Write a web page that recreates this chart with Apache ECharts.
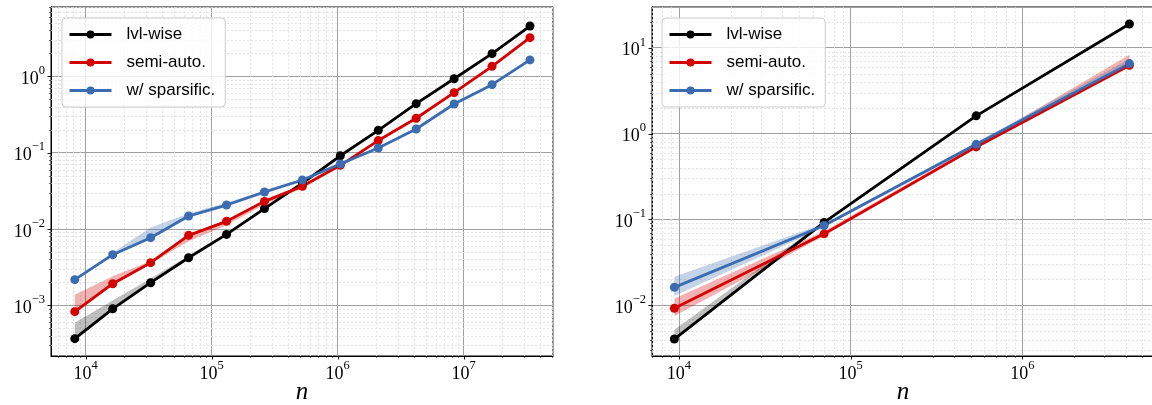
<!DOCTYPE html>
<html>
<head>
<meta charset="utf-8">
<script src="https://cdn.jsdelivr.net/npm/echarts@6/dist/echarts.min.js"></script>
<style>
  html, body { margin: 0; padding: 0; background: #ffffff; }
  #chart { width: 1152px; height: 405px; }
</style>
</head>
<body>
<div id="chart"></div>
<script>
// ---- problem sizes ----
const nLeft = [8192, 16384, 32768, 65536, 131072, 262144, 524288, 1048576,
               2097152, 4194304, 8388608, 16777216, 33554432];
const nRight = [9400, 70000, 538000, 4200000];

// ---- left panel: run times (median, lower / upper envelope) ----
const lvlLeft    = [3.66e-4, 9.0e-4, 1.98e-3, 4.2e-3, 8.5e-3, 1.85e-2, 4.0e-2, 9.1e-2, 0.196, 0.438, 0.93, 1.98, 4.56];
const lvlLeftLo  = [3.5e-4, 8.7e-4, 1.93e-3, 4.1e-3, 8.3e-3, 1.8e-2, 3.9e-2, 8.9e-2, 0.19, 0.425, 0.9, 1.93, 4.45];
const lvlLeftHi  = [5.9e-4, 1.16e-3, 2.25e-3, 4.45e-3, 8.8e-3, 1.92e-2, 4.15e-2, 9.4e-2, 0.203, 0.455, 0.97, 2.04, 4.7];

const semiLeft   = [8.26e-4, 1.92e-3, 3.62e-3, 8.26e-3, 1.26e-2, 2.3e-2, 3.62e-2, 6.82e-2, 0.144, 0.282, 0.611, 1.35, 3.21];
const semiLeftLo = [7.8e-4, 1.83e-3, 3.5e-3, 6.9e-3, 1.12e-2, 2.1e-2, 3.45e-2, 6.6e-2, 0.139, 0.273, 0.595, 1.31, 3.12];
const semiLeftHi = [1.38e-3, 2.4e-3, 3.8e-3, 8.6e-3, 1.3e-2, 2.42e-2, 3.8e-2, 7.05e-2, 0.149, 0.29, 0.63, 1.39, 3.3];

const spLeft     = [2.17e-3, 4.61e-3, 7.7e-3, 1.48e-2, 2.06e-2, 3.05e-2, 4.38e-2, 7.11e-2, 0.115, 0.204, 0.434, 0.778, 1.64];
const spLeftLo   = [2.1e-3, 4.45e-3, 7.4e-3, 1.4e-2, 1.95e-2, 2.9e-2, 4.2e-2, 6.9e-2, 0.112, 0.198, 0.422, 0.758, 1.6];
const spLeftHi   = [2.25e-3, 4.9e-3, 1.05e-2, 1.6e-2, 2.2e-2, 3.2e-2, 4.6e-2, 7.35e-2, 0.119, 0.21, 0.446, 0.8, 1.69];

// ---- right panel ----
const lvlRight    = [4.05e-3, 0.0923, 1.61, 18.9];
const lvlRightLo  = [3.9e-3, 0.089, 1.56, 18.4];
const lvlRightHi  = [5.2e-3, 0.096, 1.66, 19.5];

const semiRight   = [9.23e-3, 0.068, 0.70, 6.25];
const semiRightLo = [7.5e-3, 0.064, 0.67, 5.9];
const semiRightHi = [1.2e-2, 0.073, 0.74, 8.3];

const spRight     = [0.0162, 0.085, 0.75, 6.53];
const spRightLo   = [0.0128, 0.081, 0.72, 6.0];
const spRightHi   = [0.0215, 0.089, 0.79, 7.4];

// ---- labelled decades ----
const xTicksLeft  = [1e4, 1e5, 1e6, 1e7];
const yTicksLeft  = [1e-3, 1e-2, 1e-1, 1e0];
const xTicksRight = [1e4, 1e5, 1e6];
const yTicksRight = [1e-2, 1e-1, 1e0, 1e1];

const names = ['lvl-wise', 'semi-auto.', 'w/ sparsific.'];
const colors = ['#000000', '#d40000', '#3b6cb1'];
const bandColors = ['rgba(0,0,0,0.25)', 'rgba(212,0,0,0.3)', 'rgba(59,108,177,0.3)'];

// axis extents
const xRangeLeft  = [5304, 5.11e7];
const yRangeLeft  = [2.17e-4, 8.09];
const xRangeRight = [6964, 5.84e6];
const yRangeRight = [2.57e-3, 29.8];

const SERIF = '"Liberation Serif", "DejaVu Serif", serif';
const SANS = '"Liberation Sans", "DejaVu Sans", sans-serif';

function isDecade(v, list) {
  return list.some(t => Math.abs(Math.log10(v) - Math.log10(t)) < 1e-6);
}
function powLabel(list) {
  return function (v) {
    if (!isDecade(v, list)) return '';
    const e = Math.round(Math.log10(v));
    const es = e < 0 ? '\u2212' + (-e) : String(e);
    return '{b|10}{s|' + es + '}';
  };
}
const richPow = {
  b: { fontFamily: SERIF, fontSize: 18, color: '#000', lineHeight: 24, verticalAlign: 'bottom' },
  s: { fontFamily: SERIF, fontSize: 12.5, color: '#000', lineHeight: 24, verticalAlign: 'top' }
};

// minor tick values m * 10^k inside an extent
function minorValues(range) {
  const out = [];
  const k0 = Math.floor(Math.log10(range[0]));
  const k1 = Math.ceil(Math.log10(range[1]));
  for (let k = k0; k <= k1; k++) {
    for (let m = 2; m <= 9; m++) {
      const v = m * Math.pow(10, k);
      if (v > range[0] && v < range[1]) out.push(v);
    }
  }
  return out;
}

// tick marks and the fine grid, as [x, y, kind] items
// kind 0: minor x, 1: minor y, 2: major x, 3: major y
function decoData(xr, yr, xt, yt) {
  const yRef = Math.sqrt(yr[0] * yr[1]);
  const xRef = Math.sqrt(xr[0] * xr[1]);
  const d = [];
  minorValues(xr).forEach(v => d.push([v, yRef, 0]));
  minorValues(yr).forEach(v => d.push([xRef, v, 1]));
  xt.forEach(v => d.push([v, yRef, 2]));
  yt.forEach(v => d.push([xRef, v, 3]));
  return d;
}
function decoRender(params, api) {
  const cs = params.coordSys;
  const kind = api.value(2);
  const p = api.coord([api.value(0), api.value(1)]);
  const kids = [];
  const fine = { stroke: '#dddddd', lineWidth: 0.8, lineDash: [2, 2] };
  if (kind === 0 || kind === 2) {
    const x = Math.round(p[0]) + 0.5;
    const yb = cs.y + cs.height;
    if (kind === 0) kids.push({ type: 'line', shape: { x1: x, y1: cs.y, x2: x, y2: yb }, style: fine });
    kids.push({ type: 'line', shape: { x1: x, y1: yb, x2: x, y2: yb + (kind === 2 ? 3.5 : 2) },
                style: { stroke: '#000', lineWidth: kind === 2 ? 0.9 : 0.6 } });
  } else {
    const y = Math.round(p[1]) + 0.5;
    const xl = cs.x;
    if (kind === 1) kids.push({ type: 'line', shape: { x1: xl, y1: y, x2: xl + cs.width, y2: y }, style: fine });
    kids.push({ type: 'line', shape: { x1: xl, y1: y, x2: xl - (kind === 3 ? 3.5 : 2), y2: y },
                style: { stroke: '#000', lineWidth: kind === 3 ? 0.9 : 0.6 } });
  }
  return { type: 'group', children: kids };
}

// shaded envelope between lower and upper curves
function bandSeries(g, xs, lo, hi, color) {
  return {
    type: 'custom', xAxisIndex: g, yAxisIndex: g, z: 2, silent: true, clip: true,
    data: xs.map((x, i) => [x, lo[i], hi[i]]),
    encode: { x: 0, y: [1, 2] },
    renderItem: function (params, api) {
      if (params.dataIndex !== 0) return null;
      const top = xs.map((x, i) => api.coord([x, hi[i]]));
      const bot = xs.map((x, i) => api.coord([x, lo[i]])).reverse();
      return { type: 'polygon', shape: { points: top.concat(bot) }, style: { fill: color } };
    }
  };
}
function lineSeries(g, name, xs, ys, color) {
  return {
    type: 'line', name: name, xAxisIndex: g, yAxisIndex: g, z: 3,
    data: xs.map((x, i) => [x, ys[i]]),
    symbol: 'circle', symbolSize: 9, showSymbol: true,
    lineStyle: { color: color, width: 2.8 },
    itemStyle: { color: color },
    emphasis: { disabled: true }, silent: true
  };
}

function xAxis(g, range, ticks) {
  return {
    type: 'log', logBase: 10, gridIndex: g, min: range[0], max: range[1],
    axisLine: { show: true, lineStyle: { color: '#000', width: 1 } },
    axisTick: { show: false },
    splitLine: { show: true, lineStyle: { color: '#a0a0a0', width: 1 } },
    axisLabel: { formatter: powLabel(ticks), rich: richPow, margin: 3, showMinLabel: false, showMaxLabel: false },
    name: 'n', nameLocation: 'middle', nameGap: 24, nameMoveOverlap: false,
    nameTextStyle: { fontFamily: SERIF, fontStyle: 'italic', fontSize: 25, color: '#000' }
  };
}
function yAxis(g, range, ticks) {
  return {
    type: 'log', logBase: 10, gridIndex: g, min: range[0], max: range[1],
    axisLine: { show: true, lineStyle: { color: '#000', width: 1 } },
    axisTick: { show: false },
    splitLine: { show: true, lineStyle: { color: '#a0a0a0', width: 1 } },
    axisLabel: { formatter: powLabel(ticks), rich: richPow, margin: 6, showMinLabel: false, showMaxLabel: false }
  };
}
function legend(left) {
  return {
    orient: 'vertical', left: left, top: 18,
    itemWidth: 42, itemHeight: 10, itemGap: 9,
    padding: [7, 10, 7, 6],
    backgroundColor: 'rgba(255,255,255,0.8)', borderColor: '#cccccc', borderWidth: 1, borderRadius: 4,
    lineStyle: { width: 3 },
    textStyle: { fontFamily: SANS, fontSize: 17, color: '#000', lineHeight: 19, padding: [0, 0, 0, 10] },
    selectedMode: false,
    data: names
  };
}

const option = {
  animation: false,
  backgroundColor: '#ffffff',
  grid: [
    { left: 51, top: 7, width: 502, height: 349, show: true, borderColor: '#000', borderWidth: 1,
      backgroundColor: 'transparent', containLabel: false, outerBoundsMode: 'none' },
    { left: 652, top: 7, width: 502, height: 349, show: true, borderColor: '#000', borderWidth: 1,
      backgroundColor: 'transparent', containLabel: false, outerBoundsMode: 'none' }
  ],
  xAxis: [xAxis(0, xRangeLeft, xTicksLeft), xAxis(1, xRangeRight, xTicksRight)],
  yAxis: [yAxis(0, yRangeLeft, yTicksLeft), yAxis(1, yRangeRight, yTicksRight)],
  legend: [legend(62), legend(662)],
  series: [
    { type: 'custom', xAxisIndex: 0, yAxisIndex: 0, z: 1, silent: true, clip: false,
      data: decoData(xRangeLeft, yRangeLeft, xTicksLeft, yTicksLeft), encode: { x: 0, y: 1 }, renderItem: decoRender },
    { type: 'custom', xAxisIndex: 1, yAxisIndex: 1, z: 1, silent: true, clip: false,
      data: decoData(xRangeRight, yRangeRight, xTicksRight, yTicksRight), encode: { x: 0, y: 1 }, renderItem: decoRender },

    bandSeries(0, nLeft, lvlLeftLo, lvlLeftHi, bandColors[0]),
    bandSeries(0, nLeft, semiLeftLo, semiLeftHi, bandColors[1]),
    bandSeries(0, nLeft, spLeftLo, spLeftHi, bandColors[2]),
    lineSeries(0, names[0], nLeft, lvlLeft, colors[0]),
    lineSeries(0, names[1], nLeft, semiLeft, colors[1]),
    lineSeries(0, names[2], nLeft, spLeft, colors[2]),

    bandSeries(1, nRight, lvlRightLo, lvlRightHi, bandColors[0]),
    bandSeries(1, nRight, semiRightLo, semiRightHi, bandColors[1]),
    bandSeries(1, nRight, spRightLo, spRightHi, bandColors[2]),
    lineSeries(1, names[0], nRight, lvlRight, colors[0]),
    lineSeries(1, names[1], nRight, semiRight, colors[1]),
    lineSeries(1, names[2], nRight, spRight, colors[2])
  ]
};

const chart = echarts.init(document.getElementById('chart'), null, { renderer: 'canvas' });
chart.setOption(option);
</script>
</body>
</html>
